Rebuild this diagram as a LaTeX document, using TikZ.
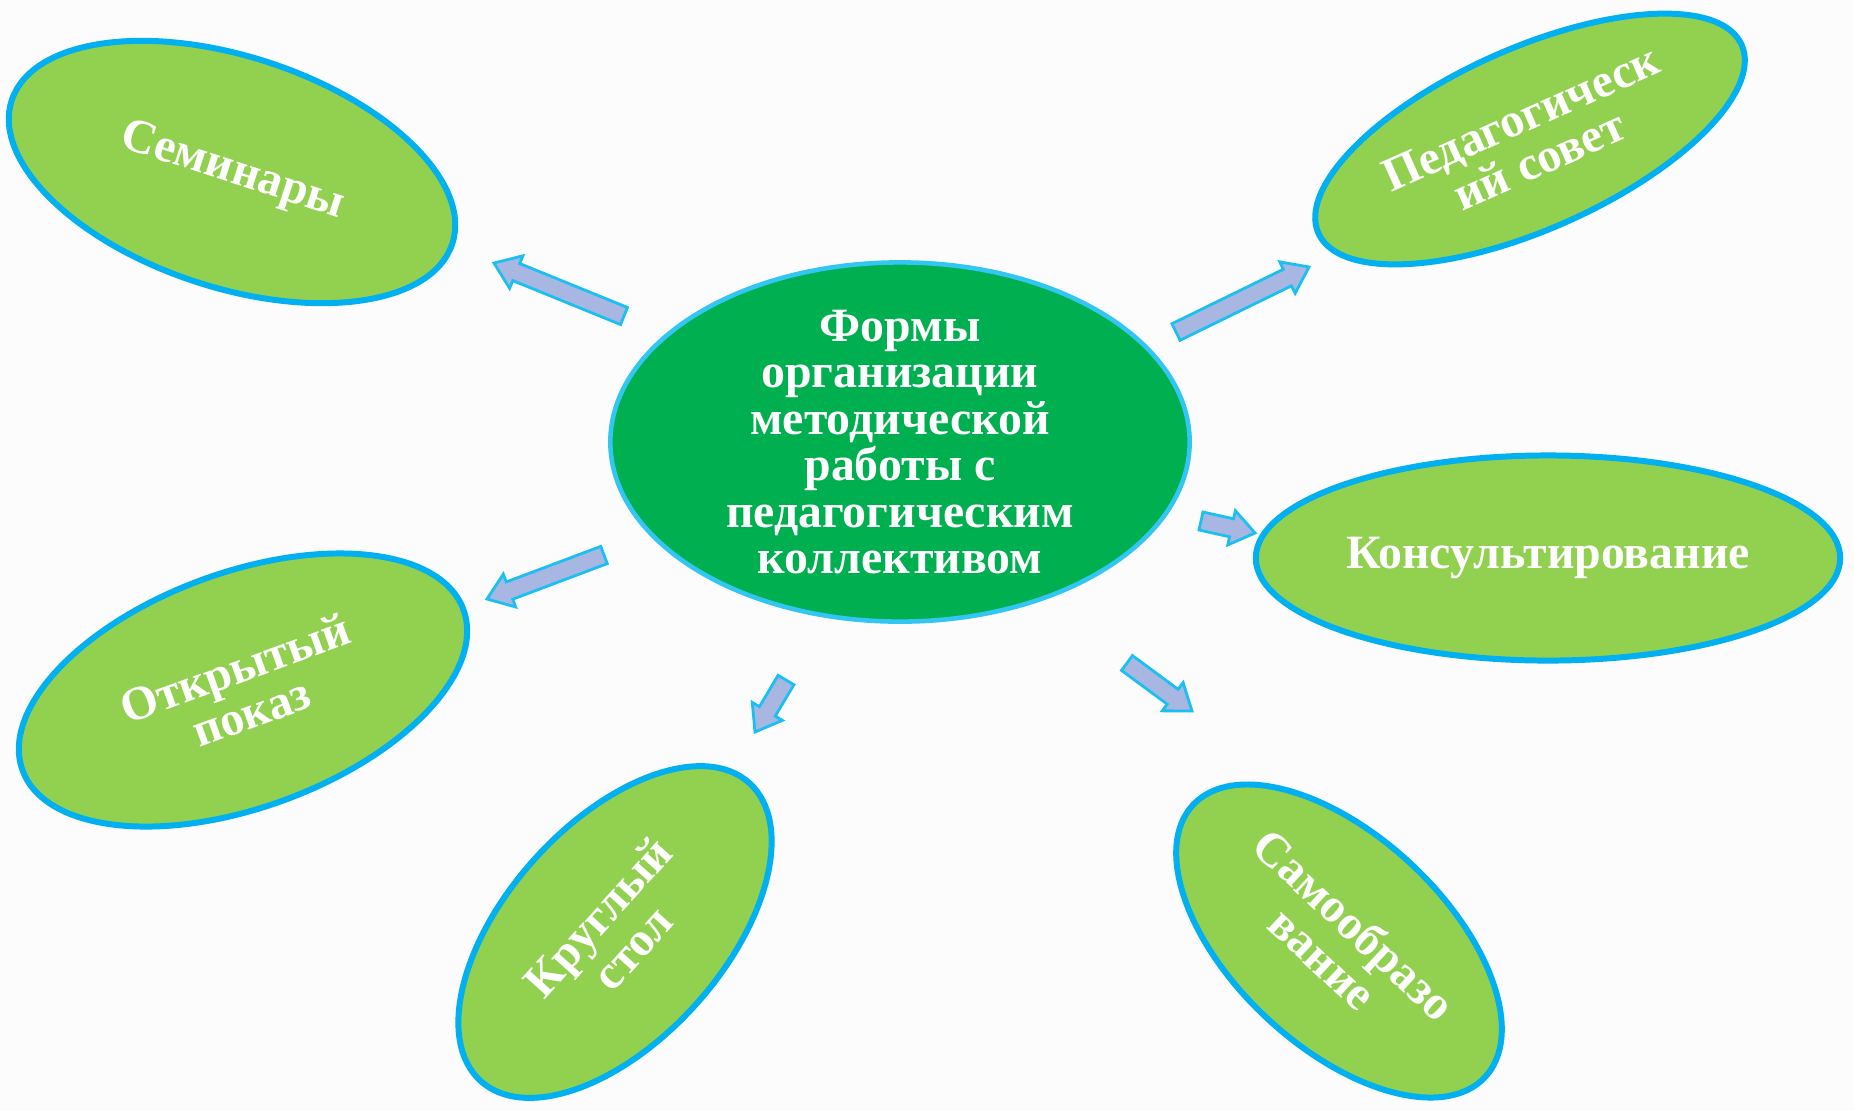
\documentclass[tikz,border=0pt]{standalone}
\usepackage{fontspec}
\setmainfont{Liberation Serif}
\usetikzlibrary{shapes.geometric,calc}

\definecolor{leaf}{HTML}{92D050}
\definecolor{rim}{HTML}{00B0F0}
\definecolor{hubgreen}{HTML}{00B050}
\definecolor{hubrim}{HTML}{33C6F2}
\definecolor{arrowfill}{HTML}{A8B7E1}
\definecolor{arrowrim}{HTML}{1CC0F0}
\definecolor{paper}{HTML}{FCFCFC}

% block arrow from tail #1 to tip #2
\newcommand\blockarrow[2]{%
  \coordinate (neck) at ($(#2)!0.24cm!(#1)$);
  \filldraw[block arrow] ($(#1)!0.092cm!90:(#2)$) -- ($(neck)!0.092cm!90:(#2)$)
    -- ($(neck)!0.175cm!90:(#2)$) -- (#2) -- ($(neck)!0.175cm!-90:(#2)$)
    -- ($(neck)!0.092cm!-90:(#2)$) -- ($(#1)!0.092cm!-90:(#2)$) -- cycle;}

\begin{document}
\begin{tikzpicture}[x=0.01cm,y=0.01cm,
    form node/.style={ellipse,draw=rim,line width=1.7pt,fill=leaf,inner sep=0pt,text=white,align=center,font=\bfseries\fontsize{13.6}{13.2}\selectfont},
    hub node/.style={ellipse,draw=hubrim,line width=1.3pt,fill=hubgreen,minimum width=5.79cm,minimum height=3.59cm},
    hub text/.style={text=white,align=center,inner sep=0pt,font=\bfseries\fontsize{13.6}{13.2}\selectfont},
    block arrow/.style={fill=arrowfill,draw=arrowrim,line width=0.8pt}]
    \fill[paper] (0,0) rectangle (1854,-1111);
    \useasboundingbox (0,0) rectangle (1854,-1111);

    \node[hub node] (hub) at (900,-442) {};
    \node[hub text] (hubt) at (hub) {Формы\\организации\\методической\\работы с\\педагогическим\\коллективом};

    \node[form node,minimum width=4.63cm,minimum height=2.31cm,rotate=-18] (semin) at (232,-172) {Семинары};
    \node[form node,minimum width=4.63cm,minimum height=1.81cm,rotate=24] (pedsov) at (1530,-139) {Педагогическ\\ий совет};
    \node[form node,minimum width=5.84cm,minimum height=2.05cm] (kons) at (1548,-558) {Консультирование};
    \node[form node,minimum width=4.69cm,minimum height=2.35cm,rotate=20] (otkr) at (243,-690) {Открытый\\показ};
    \node[form node,minimum width=4.01cm,minimum height=2.17cm,rotate=48] (krugl) at (615,-932) {Круглый\\стол};
    \node[form node,minimum width=3.99cm,minimum height=2.11cm,rotate=-43] (samo) at (1339,-941) {Самообразо\\вание};

    \coordinate (t1) at ($(hub)+(-276,126)$);
    \coordinate (h1) at ($(semin)+(262,-91)$);
    \coordinate (t2) at ($(hub)+(276,110)$);
    \coordinate (h2) at ($(pedsov)+(-221,-128)$);
    \coordinate (t3) at ($(hub)+(301,-79)$);
    \coordinate (h3) at ($(kons)+(-293,25)$);
    \coordinate (t4) at ($(hub)+(227,-221)$);
    \coordinate (h4) at ($(samo)+(-147,230)$);
    \coordinate (t5) at ($(hub)+(-114,-238)$);
    \coordinate (h5) at ($(krugl)+(140,200)$);
    \coordinate (t6) at ($(hub)+(-296,-113)$);
    \coordinate (h6) at ($(otkr)+(244,91)$);

    \blockarrow{t1}{h1}
    \blockarrow{t2}{h2}
    \blockarrow{t3}{h3}
    \blockarrow{t4}{h4}
    \blockarrow{t5}{h5}
    \blockarrow{t6}{h6}
\end{tikzpicture}
\end{document}
